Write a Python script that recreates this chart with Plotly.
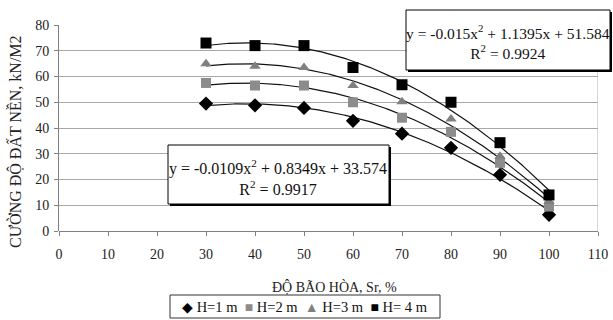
import numpy as np
import plotly.graph_objects as go

sr = [30, 40, 50, 60, 70, 80, 90, 100]
h1 = [49.5, 48.8, 47.8, 42.8, 37.8, 32.3, 21.8, 6.3]
h2 = [57.5, 56.5, 56.5, 50.0, 44.0, 38.5, 26.5, 9.5]
h3 = [65.0, 64.0, 63.5, 56.5, 50.2, 43.5, 29.0, 11.5]
h4 = [73.0, 72.0, 72.0, 63.5, 56.8, 50.0, 34.3, 14.0]
names = ["H=1 m", "H=2 m", "H=3 m", "H= 4 m"]
eq_h4 = "y = -0.015x<sup>2</sup> + 1.1395x + 51.584<br>R<sup>2</sup> = 0.9924"
eq_h1 = "y = -0.0109x<sup>2</sup> + 0.8349x + 33.574<br>R<sup>2</sup> = 0.9917"

W, H = 613, 320
L, R, T, B = 59, 15, 25, 89
pw, ph = W - L - R, H - T - B

def px(x):
    return (x - L) / pw

def py(y):
    return (H - B - y) / ph

FONT = "Liberation Serif"
fig = go.Figure()

series = [h1, h2, h3, h4]
styles = [
    dict(symbol="diamond", color="#000000", size=11, glyph="◆"),
    dict(symbol="square", color="#8c8c8c", size=10, glyph="■"),
    dict(symbol="triangle-up", color="#808080", size=10, glyph="▲"),
    dict(symbol="square", color="#000000", size=11, glyph="■"),
]

xs = np.linspace(min(sr), max(sr), 200)
for ys in series:
    c = np.polyfit(sr, ys, 2)
    fig.add_trace(go.Scatter(x=xs, y=np.polyval(c, xs), mode="lines",
                             line=dict(color="#111111", width=1.2),
                             showlegend=False, hoverinfo="skip"))

for ys, nm, st in zip(series, names, styles):
    fig.add_trace(go.Scatter(x=sr, y=ys, mode="markers", name=nm, showlegend=False,
                             marker=dict(symbol=st["symbol"], color=st["color"],
                                         size=st["size"], line=dict(width=0))))

shapes = []
def box(x0, y0, x1, y1):
    shapes.append(dict(type="rect", xref="paper", yref="paper",
                       x0=px(x0 + 2), x1=px(x1 + 2), y0=py(y1 + 2), y1=py(y0 + 2),
                       fillcolor="#000000", line=dict(width=0), layer="above"))
    shapes.append(dict(type="rect", xref="paper", yref="paper",
                       x0=px(x0), x1=px(x1), y0=py(y1), y1=py(y0),
                       fillcolor="#ffffff", line=dict(color="#000000", width=1), layer="above"))

box(406, 10, 610, 70)
box(168, 145, 389, 204)
shapes.append(dict(type="line", xref="x", yref="y", x0=110, x1=110, y0=0, y1=80,
                   line=dict(color="#b0b0b0", width=1), layer="below"))
# legend frame
shapes.append(dict(type="rect", xref="paper", yref="paper",
                   x0=px(170), x1=px(440), y0=py(318), y1=py(295),
                   fillcolor="#ffffff", line=dict(color="#333333", width=1)))

legend_text = "&nbsp;&nbsp;".join(
    f"<span style='color:{st['color']};font-size:14px'>{st['glyph']}</span>&nbsp;{nm}"
    for nm, st in zip(names, styles))

annotations = [
    dict(xref="paper", yref="paper", x=px(508), y=py(42), text=eq_h4, showarrow=False,
         font=dict(family=FONT, size=15.5, color="#111111"), align="center",
         xanchor="center", yanchor="middle"),
    dict(xref="paper", yref="paper", x=px(278), y=py(177), text=eq_h1, showarrow=False,
         font=dict(family=FONT, size=16, color="#111111"), align="center",
         xanchor="center", yanchor="middle"),
    dict(xref="paper", yref="paper", x=px(15), y=py(142), text="CƯỜNG ĐỘ ĐẤT NỀN, kN/M2",
         textangle=-90, showarrow=False, xanchor="center", yanchor="middle",
         font=dict(family=FONT, size=16, color="#222222")),
    dict(xref="paper", yref="paper", x=px(334), y=py(287), text="ĐỘ BÃO HÒA, Sr, %",
         showarrow=False, xanchor="center", yanchor="middle",
         font=dict(family=FONT, size=14, color="#222222")),
    dict(xref="paper", yref="paper", x=px(305), y=py(306.5), text=legend_text,
         showarrow=False, xanchor="center", yanchor="middle",
         font=dict(family=FONT, size=14.5, color="#111111")),
]

fig.update_layout(
    width=W, height=H,
    margin=dict(l=L, r=R, t=T, b=B, autoexpand=False),
    paper_bgcolor="white", plot_bgcolor="white",
    font=dict(family=FONT, size=14, color="#222222"),
    shapes=shapes, annotations=annotations, showlegend=False,
    xaxis=dict(range=[0, 110], dtick=10, tick0=0, showgrid=False, zeroline=False,
               showline=False, ticks="outside", ticklen=4, tickcolor="#808080",
               ticklabelstandoff=6, automargin=False,
               tickfont=dict(family=FONT, size=14, color="#222222")),
    yaxis=dict(range=[0, 80], dtick=10, tick0=0, showgrid=True, gridcolor="#a8a8a8",
               gridwidth=1, zeroline=True, zerolinecolor="#808080", zerolinewidth=1,
               showline=True, linecolor="#808080", linewidth=1,
               ticks="outside", ticklen=4, tickcolor="#808080", automargin=False,
               ticklabelstandoff=2,
               tickfont=dict(family=FONT, size=14, color="#222222")),
)

fig.write_html("out.html", config={"displayModeBar": False},
               post_script="document.body.style.margin='0';")
